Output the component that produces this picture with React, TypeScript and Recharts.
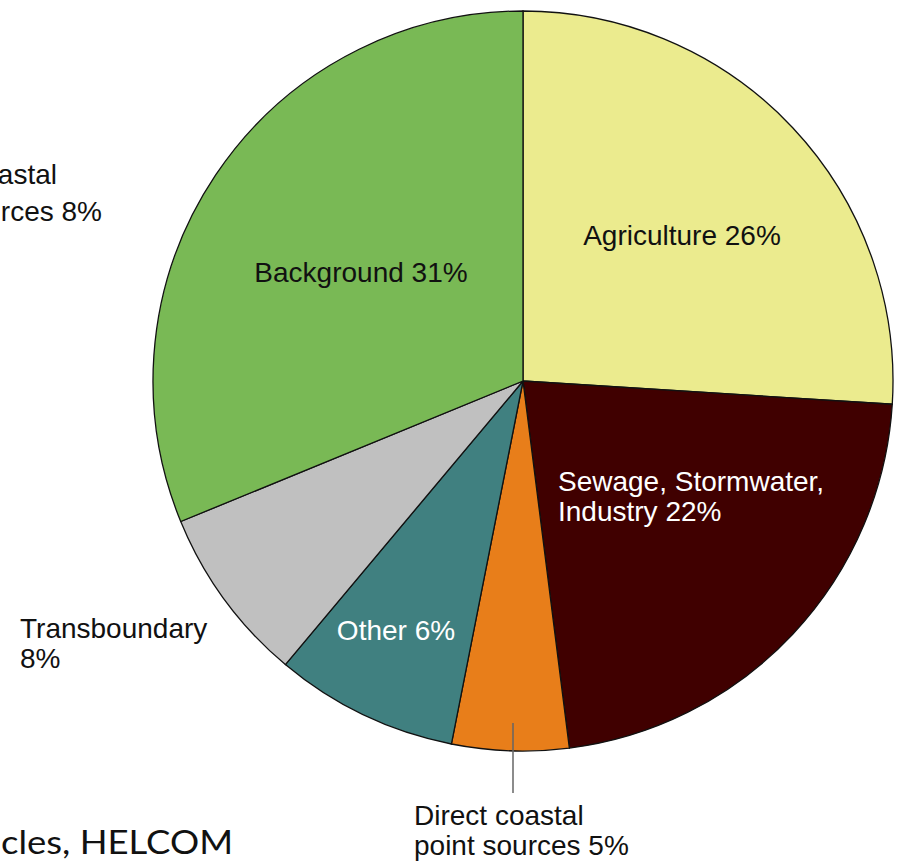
import { PieChart, Pie, Cell } from 'recharts'

// slice order: clockwise from 12 o'clock
const sources = ['Agriculture', 'Sewage', 'Direct coastal', 'Other', 'Transboundary', 'Background']
// angular shares as drawn in the picture (the printed labels are rounded)
const shares = [26, 22, 5.1, 8, 7.7, 31.2]
const labelLines = [
  ['Agriculture 26%'],
  ['Sewage, Stormwater,', 'Industry 22%'],
  ['Direct coastal', 'point sources 5%'],
  ['Other 6%'],
  ['Transboundary', '8%'],
  ['Background 31%'],
]
const colors = ['#EBEB8E', '#400000', '#E87E1A', '#408080', '#C0C0C0', '#79B955']

const data = sources.map((name, i) => ({ name, value: shares[i] }))

// label placement relative to pie centre
const labelLayout = [
  { dx: 159, dy: -136, anchor: 'middle', fill: '#111' },
  { dx: 35, dy: 110, anchor: 'start', fill: '#fff' },
  { dx: -109, dy: 444, anchor: 'start', fill: '#111', leader: { dx: -10, y1: 342, y2: 412 } },
  { dx: -127, dy: 259, anchor: 'middle', fill: '#fff' },
  { dx: -503, dy: 257, anchor: 'start', fill: '#111' },
  { dx: -162, dy: -99, anchor: 'middle', fill: '#111' },
]

const FONT = 'Arial, "Liberation Sans", sans-serif'
const W = 899
const H = 862

const renderLabel = (props: any) => {
  const { cx, cy, index } = props
  const l = labelLayout[index]
  return (
    <g key={`lbl-${index}`}>
      {l.leader && (
        <line
          x1={cx + l.leader.dx}
          x2={cx + l.leader.dx}
          y1={cy + l.leader.y1}
          y2={cy + l.leader.y2}
          stroke='#666'
          strokeWidth={1.5}
        />
      )}
      <text
        x={cx + l.dx}
        y={cy + l.dy}
        textAnchor={l.anchor}
        fill={l.fill}
        fontSize={28}
        fontFamily={FONT}
      >
        {labelLines[index].map((s, j) => (
          <tspan key={j} x={cx + l.dx} dy={j === 0 ? 0 : 30}>
            {s}
          </tspan>
        ))}
      </text>
    </g>
  )
}

export default function App() {
  return (
    <div style={{ position: 'absolute', left: 0, top: 0, width: W, height: H, overflow: 'hidden', background: '#fff' }}>
      <PieChart width={W} height={H} margin={{ top: 0, right: 0, bottom: 0, left: 0 }}>
        <Pie
          data={data}
          dataKey='value'
          nameKey='name'
          cx={523}
          cy={381}
          outerRadius={370}
          startAngle={90}
          endAngle={-270}
          stroke='#111'
          strokeWidth={1.3}
          label={renderLabel}
          labelLine={false}
          isAnimationActive={false}
        >
          {data.map((d, i) => (
            <Cell key={d.name} fill={colors[i]} />
          ))}
        </Pie>
      </PieChart>
      {/* cropped slide text around the chart */}
      <svg width={W} height={H} style={{ position: 'absolute', left: 0, top: 0, pointerEvents: 'none' }}>
        <text x={57} y={184} textAnchor='end' fontSize={28} fontFamily={FONT} fill='#111'>astal</text>
        <text x={102} y={221} textAnchor='end' fontSize={28} fontFamily={FONT} fill='#111'>rces 8%</text>
        <text
          x={1}
          y={854}
          textAnchor='start'
          fontSize={33}
          textLength={232}
          lengthAdjust='spacingAndGlyphs'
          fontFamily='Lato, "Open Sans", sans-serif'
          fill='#111'
        >
          cles, HELCOM
        </text>
      </svg>
    </div>
  )
}
